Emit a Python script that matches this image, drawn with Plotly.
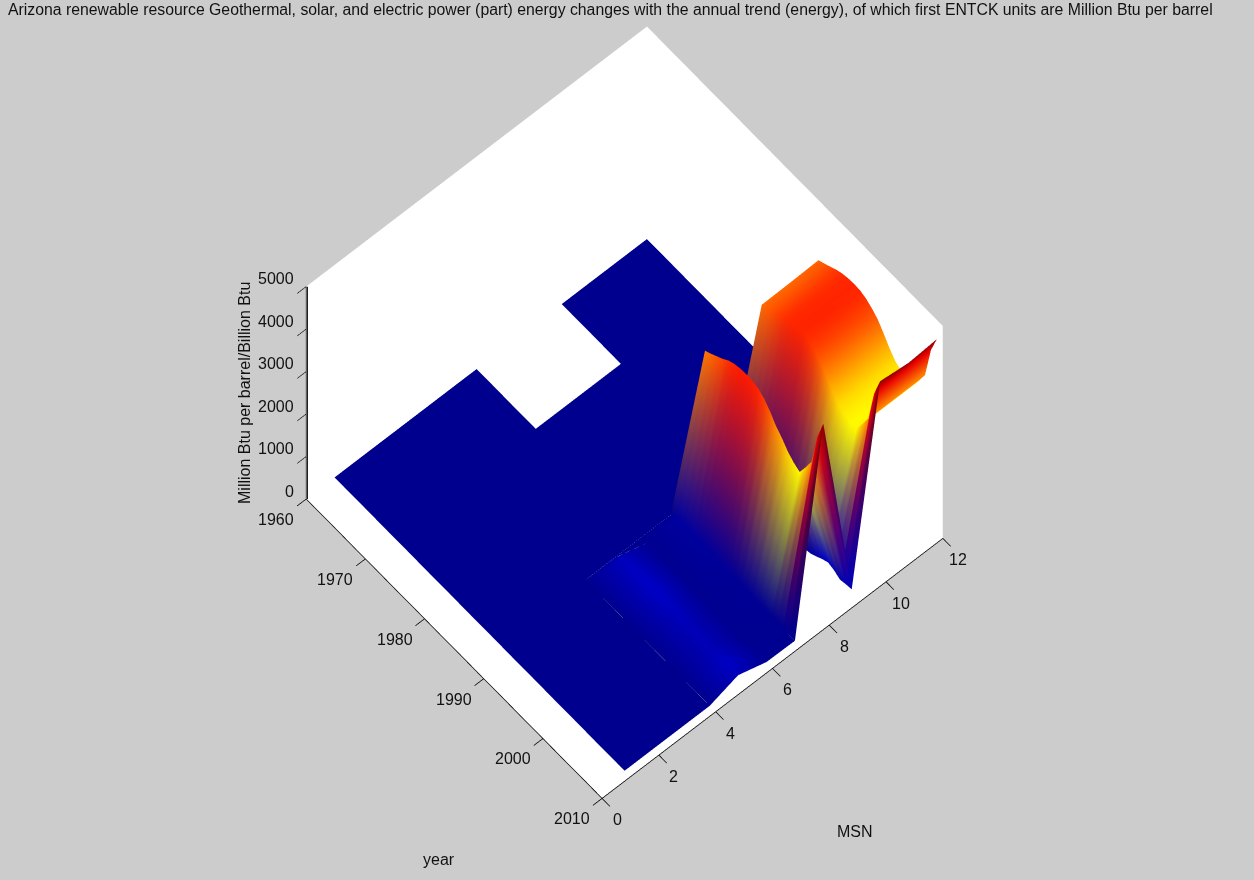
import plotly.graph_objects as go

TITLE = ("Arizona renewable resource Geothermal, solar, and electric power (part) energy changes "
         "with the annual trend (energy), of which first ENTCK units are Million Btu per barrel")

years = list(range(1960, 2010))
msn_ids = [1, 2, 3, 4, 5, 6, 7, 8, 9, 10, 11, 12]
N = None

msn1 = [0] * 50
msn2 = [0] * 50
msn3 = [0] * 50
msn4 = [0] * 50
msn5 = [0] * 29 + [200, 220, 230, 240, 250, 260, 260, 250, 235, 220, 210, 200, 190, 190, 190, 190, 200, 220, 250, 230, 210]
msn6 = [0] * 29 + [10, 10, 10, 10, 10, 10, 10, 10, 10, 10, 10, 10, 10, 10, 10, 10, 10, 10, 20, 20, 10]
msn7 = [N] * 10 + [0] * 19 + [80, 80, 70, 70, 60, 60, 50, 50, 40, 40, 30, 30, 30, 30, 20, 20, 10, 10, 10, 0, 0]
msn8 = [N] * 10 + [0] * 19 + [3500, 3570, 3650, 3730, 3830, 3890, 3920, 3930, 3920, 3880, 3780, 3620, 3420, 3280, 3100, 2980, 2900, 3150, 3420, 4150, 4600]
msn9 = [0] * 29 + [30, 30, 30, 30, 30, 30, 30, 30, 30, 30, 30, 30, 30, 50, 120, 200, 260, 220, 140, 170, 190]
msn10 = [0] * 29 + [3560, 3620, 3690, 3760, 3830, 3870, 3880, 3880, 3830, 3750, 3610, 3420, 3210, 3040, 2960, 2900, 2900, 3150, 3420, 4150, 4580]
msn11 = [0] * 29 + [3570, 3630, 3700, 3770, 3830, 3870, 3880, 3880, 3830, 3750, 3610, 3420, 3210, 3040, 2960, 2900, 2900, 3150, 3420, 4150, 4500]
msn12 = [0] * 29 + [3590, 3650, 3720, 3790, 3840, 3870, 3880, 3870, 3820, 3730, 3610, 3420, 3210, 3040, 2960, 2900, 2900, 3150, 3420, 4150, 4550]
rows = [msn1, msn2, msn3, msn4, msn5, msn6, msn7, msn8, msn9, msn10, msn11, msn12]

year_ticks = [1960, 1970, 1980, 1990, 2000, 2010]
msn_ticks = [0, 2, 4, 6, 8, 10, 12]
z_ticks = [0, 1000, 2000, 3000, 4000, 5000]
COLOR_MAX = 4640


def jet(v):
    v = max(0.0, min(1.0, v)) * 63 / 64 + 1 / 64
    def seg(c):
        return max(0.0, min(1.0, 1.5 - abs(4 * v - c)))
    return "rgb(%d,%d,%d)" % (255 * seg(3), 255 * seg(2), 255 * seg(1))


xs, ys, zs, cols, ii, jj, kk = [], [], [], [], [], [], []
index = {}
for r, row in zip(msn_ids, rows):
    for y, val in zip(years, row):
        if val is None:
            continue
        index[(r, y)] = len(xs)
        xs.append(y)
        ys.append(r)
        zs.append(val)
        cols.append(jet(val / COLOR_MAX))
for r in msn_ids[:-1]:
    for y in years[:-1]:
        q = [(r, y), (r + 1, y), (r + 1, y + 1), (r, y + 1)]
        if all(p in index for p in q):
            a, b, c, d = [index[p] for p in q]
            ii += [a, a]
            jj += [b, c]
            kk += [c, d]

fig = go.Figure(go.Mesh3d(
    x=xs, y=ys, z=zs, i=ii, j=jj, k=kk, vertexcolor=cols, hoverinfo="skip",
    flatshading=False,
    lighting=dict(ambient=1, diffuse=0, specular=0, roughness=1, fresnel=0,
                  facenormalsepsilon=0, vertexnormalsepsilon=0),
))
fig.add_trace(go.Scatter3d(x=[1960.1, 1960.1], y=[0.02, 0.02], z=[0, 5000], mode="lines",
                           line=dict(color="black", width=2), hoverinfo="skip"))

FONT = "Liberation Sans"
TICK_FONT = dict(family=FONT, size=16, color="#111111")
axis = dict(showbackground=True, backgroundcolor="white", showgrid=False, zeroline=False,
            showline=True, linecolor="black", linewidth=1.5, ticks="outside", ticklen=12,
            tickcolor="black", tickwidth=1.5, showspikes=False, title=dict(text=""),
            showticklabels=False)

labels = []
for yr in year_ticks:
    labels.append(dict(x=yr, y=0, z=0, text=str(yr), showarrow=False, font=TICK_FONT,
                       xanchor="center", yanchor="middle", xshift=-30, yshift=-20))
for m in msn_ticks:
    labels.append(dict(x=2010, y=m, z=0, text=str(m), showarrow=False, font=TICK_FONT,
                       xanchor="center", yanchor="middle", xshift=15, yshift=-21))
for v in z_ticks:
    labels.append(dict(x=1960, y=0, z=v, text=str(v), showarrow=False, font=TICK_FONT,
                       xanchor="right", yanchor="middle", xshift=-10, yshift=8))

fig.update_layout(
    width=1254, height=880,
    margin=dict(l=0, r=0, t=0, b=0),
    paper_bgcolor="#CCCCCC",
    showlegend=False,
    font=dict(family=FONT, color="#111111"),
    scene=dict(
        domain=dict(x=[0, 0.996], y=[0.062, 1]),
        xaxis=dict(axis, range=[1960, 2010], tickvals=year_ticks),
        yaxis=dict(axis, range=[0, 12], tickvals=msn_ticks),
        zaxis=dict(axis, range=[0, 5000], tickvals=z_ticks),
        aspectmode="manual",
        aspectratio=dict(x=1.094, y=1.094, z=1.079),
        annotations=labels,
        camera=dict(
            eye=dict(x=0.661, y=-0.574, z=1.612),
            up=dict(x=0, y=0, z=1),
            center=dict(x=0, y=0, z=0),
            projection=dict(type="orthographic"),
        ),
    ),
    annotations=[
        dict(text=TITLE, x=610 / 1254, y=1 - 9 / 880, xref="paper", yref="paper", showarrow=False,
             xanchor="center", yanchor="middle", font=dict(family=FONT, size=15.8, color="#111111")),
        dict(text="year", x=439 / 1254, y=1 - 859 / 880, xref="paper", yref="paper", showarrow=False,
             xanchor="center", yanchor="middle", font=dict(family=FONT, size=16, color="#111111")),
        dict(text="MSN", x=855 / 1254, y=1 - 831 / 880, xref="paper", yref="paper", showarrow=False,
             xanchor="center", yanchor="middle", font=dict(family=FONT, size=16, color="#111111")),
        dict(text="Million Btu per barrel/Billion Btu", x=245 / 1254, y=1 - 393 / 880, xref="paper",
             yref="paper", showarrow=False, textangle=-90, xanchor="center", yanchor="middle",
             font=dict(family=FONT, size=16, color="#111111")),
    ],
)
fig.write_html("out.html", config=dict(displayModeBar=False),
               post_script="document.body.style.margin='0';document.body.style.background='#CCCCCC';")
